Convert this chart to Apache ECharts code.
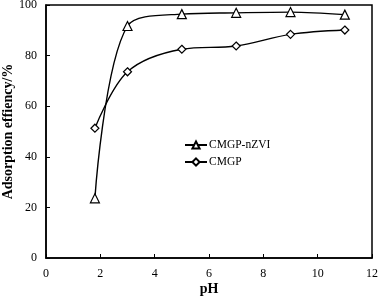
<!DOCTYPE html>
<html>
<head>
<meta charset="utf-8">
<script src="https://cdn.jsdelivr.net/npm/echarts@6/dist/echarts.min.js"></script>
<style>
  html, body { margin: 0; padding: 0; background: #fff; }
  #chart { width: 378px; height: 300px; }
</style>
</head>
<body>
<div id="chart"></div>
<script>
const phValues = [1.8, 3, 5, 7, 9, 11];
const nzviValues = [23.6, 91.7, 96.4, 96.9, 97.2, 96.2];
const cmgpValues = [51.3, 73.6, 82.5, 83.8, 88.4, 90.1];
const seriesNames = ['CMGP-nZVI', 'CMGP'];

const chart = echarts.init(document.getElementById('chart'), null, { renderer: 'canvas' });

function pairs(xs, ys) {
    return xs.map((x, i) => [x, ys[i]]);
}

const font = 'Liberation Serif';
const markerStyle = { color: '#fff', borderColor: '#000', borderWidth: 1.2 };

const option = {
    animation: false,
    grid: {
        left: 46,
        right: 6,
        top: 5,
        bottom: 42,
        outerBoundsMode: 'none',
        containLabel: false,
        show: true,
        borderColor: '#000',
        borderWidth: 1.5
    },
    legend: {
        orient: 'vertical',
        left: 179,
        top: 134,
        itemWidth: 22,
        itemHeight: 9,
        itemGap: 5,
        textStyle: { fontFamily: font, fontSize: 11.5, color: '#000', padding: [0, 0, 0, -3] },
        data: seriesNames
    },
    xAxis: {
        type: 'value',
        min: 0,
        max: 12,
        interval: 2,
        name: 'pH',
        nameLocation: 'middle',
        nameGap: 24,
        nameMoveOverlap: false,
        nameTextStyle: { fontFamily: font, fontSize: 14, fontWeight: 'bold', color: '#000' },
        axisLine: { lineStyle: { color: '#000', width: 1.5 } },
        axisTick: { inside: true, length: 4, lineStyle: { color: '#000' } },
        axisLabel: { fontFamily: font, fontSize: 12, color: '#000', margin: 10 },
        splitLine: { show: false }
    },
    yAxis: {
        type: 'value',
        min: 0,
        max: 100,
        interval: 20,
        name: 'Adsorption effiency/%',
        nameLocation: 'middle',
        nameGap: 31,
        nameMoveOverlap: false,
        nameTextStyle: { fontFamily: font, fontSize: 14, fontWeight: 'bold', color: '#000' },
        axisLine: { lineStyle: { color: '#000', width: 1.5 } },
        axisTick: { inside: true, length: 4, lineStyle: { color: '#000' } },
        axisLabel: { fontFamily: font, fontSize: 12, color: '#000', margin: 9 },
        splitLine: { show: false }
    },
    series: [
        {
            name: seriesNames[0],
            type: 'line',
            data: pairs(phValues, nzviValues),
            smooth: 0.35,
            symbol: 'triangle',
            symbolSize: 9,
            lineStyle: { color: '#000', width: 1.4 },
            itemStyle: markerStyle
        },
        {
            name: seriesNames[1],
            type: 'line',
            data: pairs(phValues, cmgpValues),
            smooth: 0.35,
            symbol: 'diamond',
            symbolSize: 8,
            lineStyle: { color: '#000', width: 1.4 },
            itemStyle: markerStyle
        }
    ]
};

chart.setOption(option);
</script>
</body>
</html>
